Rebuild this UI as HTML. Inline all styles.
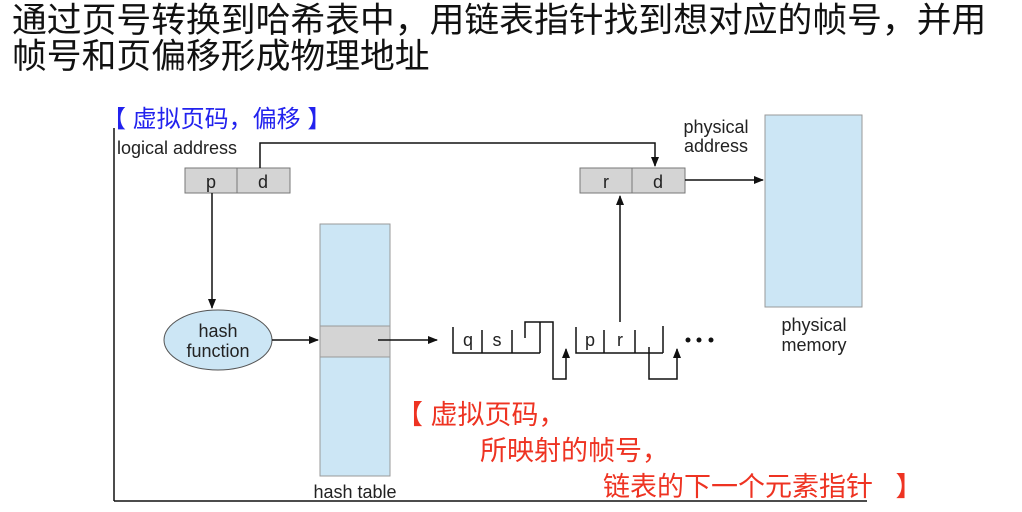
<!DOCTYPE html>
<html><head><meta charset="utf-8"><style>
body{margin:0;background:#fff;width:1022px;height:512px;overflow:hidden;position:relative;font-family:"Liberation Sans","Noto Sans CJK SC",sans-serif}
.t{position:absolute;white-space:nowrap}
</style></head><body>
<div class="t" style="left:12px;top:3px;font-size:34.8px;line-height:36px;color:#111">通过页号转换到哈希表中，用链表指针找到想对应的帧号，并用<br>帧号和页偏移形成物理地址</div>
<svg width="1022" height="512" style="position:absolute;left:0;top:0" font-family="Liberation Sans, sans-serif">
<defs><marker id="a" markerWidth="10" markerHeight="10" refX="9" refY="5" orient="auto" markerUnits="userSpaceOnUse"><path d="M0,1 L10,5 L0,9 Z" fill="#111"/></marker></defs>
<g stroke="#111" stroke-width="1.5" fill="none">
<line x1="114" y1="128" x2="114" y2="501"/>
<line x1="114" y1="501" x2="867" y2="501"/>
</g>
<rect x="765" y="115" width="97" height="192" fill="#cce6f5" stroke="#999"/>
<rect x="320" y="224" width="70" height="252" fill="#cce6f5" stroke="#999"/>
<rect x="320" y="326" width="70" height="31" fill="#d4d4d4" stroke="#999"/>
<ellipse cx="218" cy="340" rx="54" ry="30" fill="#cce6f5" stroke="#555"/>
<rect x="185" y="168" width="52" height="25" fill="#d4d4d4" stroke="#777"/>
<rect x="237" y="168" width="53" height="25" fill="#d4d4d4" stroke="#777"/>
<rect x="580" y="168" width="52" height="25" fill="#d4d4d4" stroke="#777"/>
<rect x="632" y="168" width="53" height="25" fill="#d4d4d4" stroke="#777"/>
<g stroke="#111" stroke-width="1.5" fill="none">
<path d="M260,168 V143 H655 V166" marker-end="url(#a)"/>
<path d="M212,193 V308" marker-end="url(#a)"/>
<path d="M272,340 H318" marker-end="url(#a)"/>
<path d="M378,340 H437" marker-end="url(#a)"/>
<path d="M685,180 H763" marker-end="url(#a)"/>
<path d="M620,322 V196" marker-end="url(#a)"/>
<path d="M453,327 V353 H540 M482,330 V353 M512,330 V353 M540,322 V353"/>
<path d="M525,338 V322 H553 V379 H566 V349" marker-end="url(#a)"/>
<path d="M576,327 V353 H663 M604,330 V353 M635,330 V353 M663,326 V353"/>
<path d="M649,347 V379 H677 V349" marker-end="url(#a)"/>
</g>
<g fill="#111"><circle cx="688" cy="340" r="2.5"/><circle cx="699" cy="340" r="2.5"/><circle cx="711" cy="340" r="2.5"/></g>
<g font-size="18" fill="#222" text-anchor="middle">
<text x="211" y="188">p</text><text x="263" y="188">d</text>
<text x="606" y="188">r</text><text x="658" y="188">d</text>
<text x="468" y="346">q</text><text x="497" y="346">s</text>
<text x="590" y="346">p</text><text x="620" y="346">r</text>
<text x="218" y="337">hash</text><text x="218" y="357">function</text>
<text x="355" y="498">hash table</text>
<text x="814" y="331">physical</text><text x="814" y="351">memory</text>
<text x="716" y="133">physical</text><text x="716" y="152">address</text>
<text x="177" y="154">logical address</text>
</g>
</svg>
<div class="t" style="left:102px;top:99px;font-size:24px;color:#2222ee">【 虚拟页码，偏移 】</div>
<div class="t" style="left:396px;top:393px;font-size:27px;color:#ee3322">【 虚拟页码，</div>
<div class="t" style="left:480px;top:429px;font-size:27px;color:#ee3322">所映射的帧号，</div>
<div class="t" style="left:603px;top:465px;font-size:27px;color:#ee3322">链表的下一个元素指针 &nbsp;&nbsp;】</div>
</body></html>
